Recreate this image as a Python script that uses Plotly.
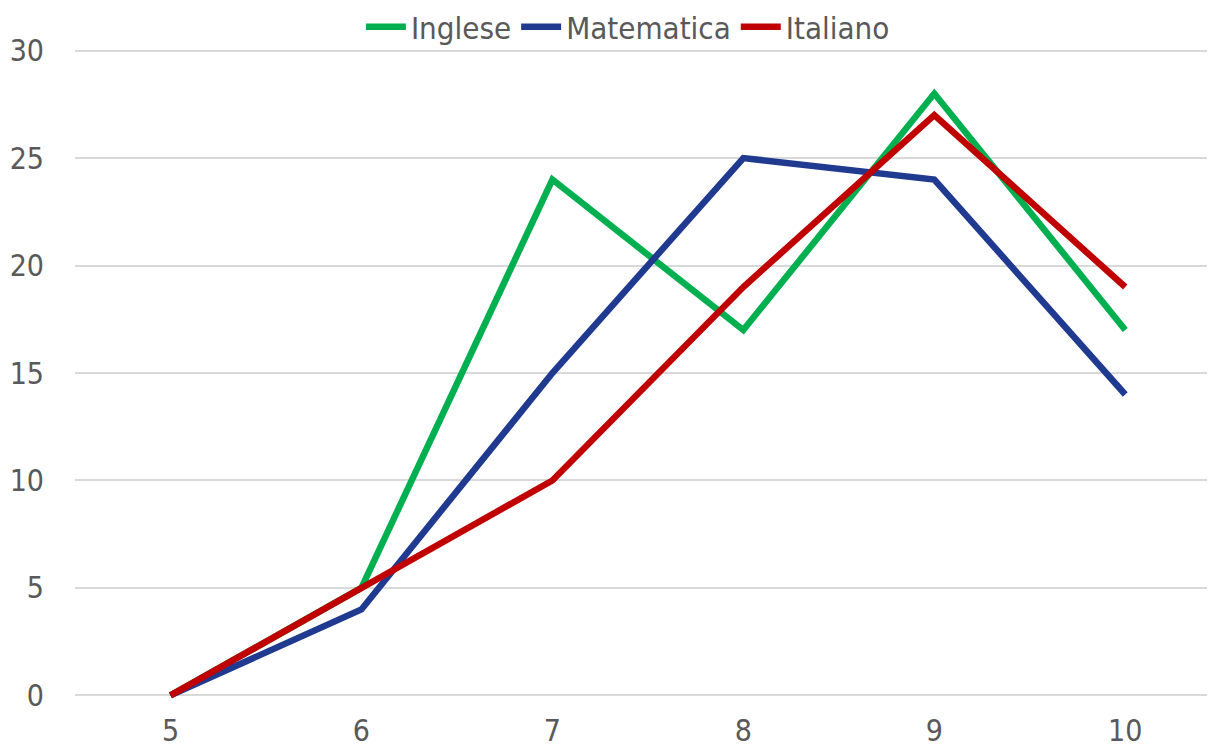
import plotly.graph_objects as go

categories = ["5", "6", "7", "8", "9", "10"]
inglese = [0, 5, 24, 17, 28, 17]
matematica = [0, 4, 15, 25, 24, 14]
italiano = [0, 5, 10, 19, 27, 19]

series = [("Inglese", inglese, "#00B050"),
          ("Matematica", matematica, "#1F3A8F"),
          ("Italiano", italiano, "#C00000")]

fig = go.Figure()
for name, vals, color in series:
    fig.add_trace(go.Scatter(x=categories, y=vals, name=name, mode="lines",
                             line=dict(color=color, width=6.5)))

font = "DejaVu Sans Condensed, DejaVu Sans"
fs = 30
fig.update_layout(
    width=1215, height=748,
    paper_bgcolor="white", plot_bgcolor="white",
    margin=dict(l=67, r=8, t=34.4, b=52.4, autoexpand=False),
    font=dict(family=font, size=fs, color="#595959"),
    legend=dict(orientation="h", x=0.485, xanchor="center",
                yref="container", y=0.9746, yanchor="middle",
                font=dict(family=font, size=31, color="#595959"), itemwidth=40,
                bgcolor="rgba(0,0,0,0)"),
    showlegend=True,
)
fig.update_xaxes(type="category", range=[-0.5, 5.47], showgrid=False,
                 showline=False, ticks="", automargin=False, ticklabelstandoff=6,
                 tickfont=dict(family=font, size=fs, color="#595959"))
fig.update_yaxes(range=[-0.4, 30.4], tickvals=[0, 5, 10, 15, 20, 25, 30],
                 showgrid=True, gridcolor="#D9D9D9", gridwidth=1.5,
                 zeroline=True, zerolinecolor="#D9D9D9", zerolinewidth=1.5,
                 showline=False, ticks="", ticklabelstandoff=30, automargin=False,
                 tickfont=dict(family=font, size=fs, color="#595959"))
fig.write_html("out.html")
